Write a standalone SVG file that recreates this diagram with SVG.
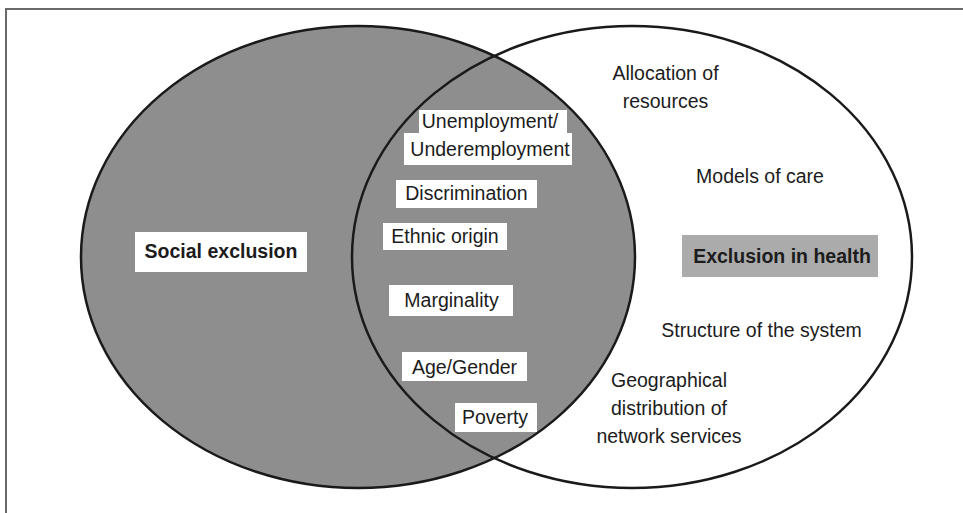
<svg xmlns="http://www.w3.org/2000/svg" width="963" height="513" viewBox="0 0 963 513">
<style>
  .lbl { font-family: "Liberation Sans", Arial, sans-serif; font-size: 19.5px; fill: #1c1c1c; text-anchor: middle; }
  .bold { font-weight: bold; }
  .box { fill: #ffffff; stroke: none; }
  .ell { stroke: #1a1a1a; stroke-width: 2.5; }
</style>
<rect x="0" y="0" width="963" height="513" fill="#ffffff"/>
<g id="frame">
  <path d="M6,513 V9 H963" fill="none" stroke="#6a6a6a" stroke-width="2"/>
</g>
<g id="social-exclusion-circle">
  <ellipse class="ell" cx="358" cy="257" rx="277" ry="231" fill="#8e8e8e"/>
</g>
<g id="health-exclusion-circle">
  <ellipse class="ell" cx="632" cy="257" rx="280" ry="231" fill="none"/>
</g>
<g id="social-exclusion">
  <rect class="box" x="135" y="232" width="172" height="40"/>
  <text class="lbl bold" x="221" y="258">Social exclusion</text>
</g>
<g id="exclusion-in-health">
  <rect x="682" y="235" width="196" height="42" fill="#ababab"/>
  <text class="lbl bold" x="782" y="263">Exclusion in health</text>
</g>
<g id="unemployment">
  <rect class="box" x="419" y="110" width="148" height="24"/>
  <rect class="box" x="404" y="133" width="168" height="32"/>
  <text class="lbl" x="490" y="128">Unemployment/</text>
  <text class="lbl" x="490" y="156">Underemployment</text>
</g>
<g id="discrimination">
  <rect class="box" x="396" y="180" width="141" height="28"/>
  <text class="lbl" x="466.5" y="200">Discrimination</text>
</g>
<g id="ethnic-origin">
  <rect class="box" x="383" y="223" width="124" height="27"/>
  <text class="lbl" x="445" y="243">Ethnic origin</text>
</g>
<g id="marginality">
  <rect class="box" x="389" y="285" width="124" height="31"/>
  <text class="lbl" x="451.5" y="307">Marginality</text>
</g>
<g id="age-gender">
  <rect class="box" x="402" y="352" width="125" height="29"/>
  <text class="lbl" x="464.5" y="374">Age/Gender</text>
</g>
<g id="poverty">
  <rect class="box" x="455" y="403" width="82" height="29"/>
  <text class="lbl" x="495" y="424">Poverty</text>
</g>
<g id="allocation">
  <text class="lbl" x="665.5" y="80">Allocation of</text>
  <text class="lbl" x="665.5" y="108">resources</text>
</g>
<g id="models">
  <text class="lbl" x="760" y="183">Models of care</text>
</g>
<g id="structure">
  <text class="lbl" x="761.5" y="337">Structure of the system</text>
</g>
<g id="geographical">
  <text class="lbl" x="669" y="387">Geographical</text>
  <text class="lbl" x="669" y="415">distribution of</text>
  <text class="lbl" x="669" y="443">network services</text>
</g>
<g id="connectors"></g>
</svg>
